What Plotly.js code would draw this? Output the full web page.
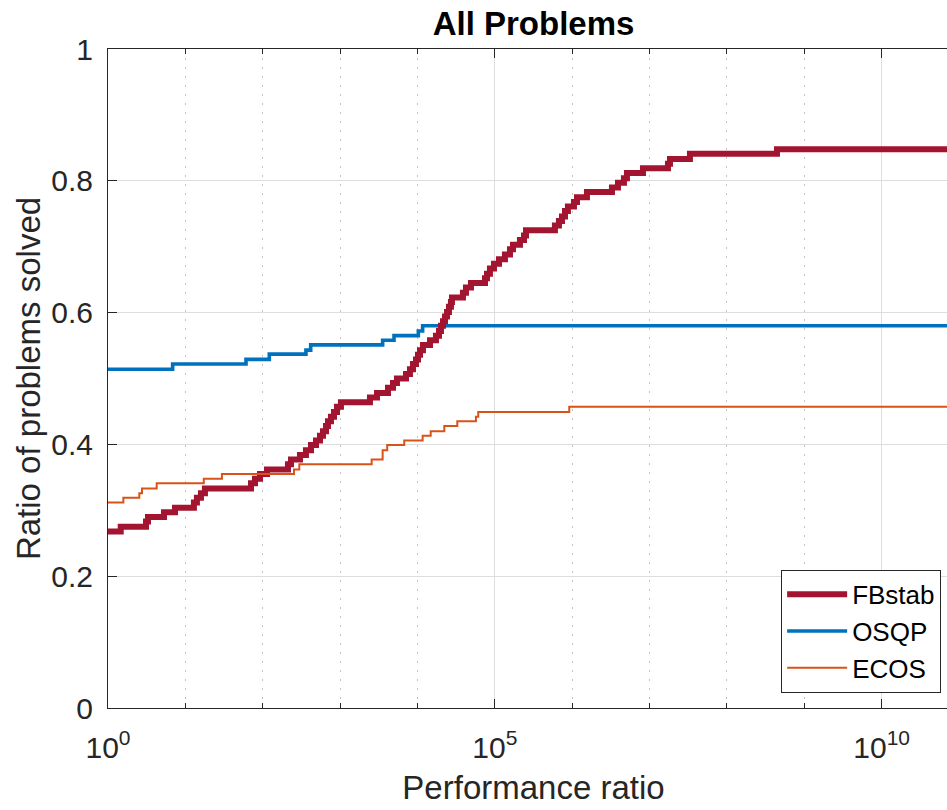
<!DOCTYPE html>
<html>
<head>
<meta charset="utf-8">
<script src="https://cdn.plot.ly/plotly-3.0.1.min.js"></script>
<style>
  html, body { margin: 0; padding: 0; overflow: hidden; background: #fff; }
  #wrap { width: 947px; height: 810px; overflow: hidden; }
</style>
</head>
<body>
<div id="wrap"><div id="chart"></div></div>
<script>
// Performance profiles: fraction of problems solved within a given performance ratio.
const solverNames = ['FBstab', 'OSQP', 'ECOS'];

const fbstabRatio = [1, 1.46, 3.10, 3.29, 5.30, 7.35, 12.9, 14.1, 15.9, 17.9,
  70.5, 79.4, 92.3, 113.5, 212, 232, 303, 362, 421, 488,
  550, 601, 658, 697, 762, 834, 912, 1026, 2432, 3000,
  4159, 4831, 5433, 7112, 7998, 8750, 9572, 1.016e4, 1.079e4, 1.178e4,
  1.452e4, 1.734e4, 1.897e4, 2.014e4, 2.138e4, 2.270e4, 2.410e4, 2.553e4, 2.710e4, 2.793e4,
  3.873e4, 4.236e4, 4.920e4, 7.464e4, 7.925e4, 8.650e4, 9.750e4, 1.132e5, 1.352e5, 1.570e5,
  1.718e5, 2.113e5, 2.382e5, 2.529e5, 5.984e5, 6.745e5, 7.379e5, 8.072e5, 8.810e5, 1.054e6,
  1.153e6, 1.552e6, 3.266e6, 3.908e6, 4.667e6, 5.105e6, 8.222e6, 1.730e7, 1.837e7, 3.327e7,
  4.436e8, 1e11];
const fbstabSolved = [0.268, 0.275, 0.283, 0.290, 0.297, 0.304, 0.312, 0.319, 0.326, 0.333,
  0.341, 0.348, 0.355, 0.362, 0.370, 0.377, 0.384, 0.391, 0.399, 0.406,
  0.413, 0.420, 0.428, 0.435, 0.442, 0.449, 0.457, 0.464, 0.471, 0.478,
  0.486, 0.493, 0.500, 0.507, 0.514, 0.522, 0.529, 0.536, 0.543, 0.551,
  0.558, 0.565, 0.572, 0.580, 0.587, 0.594, 0.601, 0.609, 0.616, 0.623,
  0.630, 0.638, 0.645, 0.652, 0.659, 0.667, 0.674, 0.681, 0.688, 0.696,
  0.703, 0.710, 0.717, 0.725, 0.732, 0.739, 0.746, 0.754, 0.761, 0.768,
  0.775, 0.783, 0.790, 0.797, 0.804, 0.812, 0.819, 0.826, 0.833, 0.841,
  0.848, 0.848];

const osqpRatio = [1, 6.85, 60.8, 121.6, 362, 417, 3548, 4977, 1.026e4, 1.167e4, 1e11];
const osqpSolved = [0.514, 0.522, 0.529, 0.537, 0.543, 0.551, 0.558, 0.565, 0.572, 0.580, 0.580];

const ecosRatio = [1, 1.58, 2.54, 2.75, 4.26, 17.3, 29.7, 253.5, 297.2, 2559,
  3548, 4064, 6745, 1.167e4, 1.483e4, 2.223e4, 3.273e4, 5.702e4, 6.109e4, 9.162e5, 1e11];
const ecosSolved = [0.312, 0.319, 0.326, 0.333, 0.341, 0.348, 0.355, 0.362, 0.370, 0.377,
  0.391, 0.399, 0.406, 0.413, 0.420, 0.428, 0.435, 0.442, 0.449, 0.457, 0.457];

const xTickVals = [1, 1e5, 1e10];
const xTickText = ['10<sup>0</sup>', '10<sup>5</sup>', '10<sup>10</sup>'];
const xMinorVals = [10, 100, 1e3, 1e4, 1e6, 1e7, 1e8, 1e9, 1e11];

const FONT = 'Liberation Sans, Arial, Helvetica, sans-serif';
const AXIS = '#262626';

const traces = [
  { name: solverNames[1], x: osqpRatio, y: osqpSolved, legendrank: 2,
    line: { color: '#0072BD', width: 3.6, shape: 'hv' } },
  { name: solverNames[0], x: fbstabRatio, y: fbstabSolved, legendrank: 1,
    line: { color: '#A2142F', width: 6, shape: 'hv' } },
  { name: solverNames[2], x: ecosRatio, y: ecosSolved, legendrank: 3,
    line: { color: '#D95319', width: 2, shape: 'hv' } }
].map(t => Object.assign({ type: 'scatter', mode: 'lines', hoverinfo: 'skip' }, t));

const layout = {
  width: 960, height: 810,
  margin: { l: 108, r: 1, t: 49, b: 102 },
  paper_bgcolor: '#fff', plot_bgcolor: '#fff',
  font: { family: FONT, color: AXIS, size: 30 },
  title: {
    text: '<b>All Problems</b>',
    font: { family: FONT, size: 33, color: '#000' },
    x: 0.5, xref: 'paper', xanchor: 'center',
    y: 1 - 12 / 810, yref: 'container', yanchor: 'top'
  },
  xaxis: {
    type: 'log', range: [0, 11],
    tickmode: 'array', tickvals: xTickVals, ticktext: xTickText,
    ticks: 'inside', ticklen: 9, tickcolor: AXIS, tickwidth: 1,
    showline: true, linecolor: AXIS, linewidth: 1, mirror: 'allticks',
    showgrid: true, gridcolor: '#dedede', gridwidth: 1,
    zeroline: false,
    tickfont: { family: FONT, size: 30, color: AXIS },
    ticklabelstandoff: 13,
    minor: {
      tickmode: 'array', tickvals: xMinorVals,
      ticks: 'inside', ticklen: 5, tickcolor: AXIS,
      showgrid: true, gridcolor: '#c4c4c4', griddash: '2px,7px', gridwidth: 1
    },
    title: { text: 'Performance ratio', font: { family: FONT, size: 33, color: AXIS }, standoff: 12 }
  },
  yaxis: {
    range: [0, 1], tickmode: 'linear', tick0: 0, dtick: 0.2,
    ticks: 'inside', ticklen: 9, tickcolor: AXIS, tickwidth: 1,
    showline: true, linecolor: AXIS, linewidth: 1, mirror: 'allticks',
    showgrid: true, gridcolor: '#dedede', gridwidth: 1,
    zeroline: false,
    tickfont: { family: FONT, size: 30, color: AXIS },
    ticklabelstandoff: 8,
    title: { text: 'Ratio of problems solved', font: { family: FONT, size: 33, color: AXIS }, standoff: 0 }
  },
  legend: {
    x: 0.979, xanchor: 'right', y: 0.023, yanchor: 'bottom',
    xref: 'paper', yref: 'paper',
    bgcolor: '#fff', bordercolor: AXIS, borderwidth: 1,
    font: { family: FONT, size: 26, color: '#000' },
    itemwidth: 60, tracegroupgap: 0
  },
  showlegend: true
};

Plotly.newPlot('chart', traces, layout, { displayModeBar: false, staticPlot: true });
</script>
</body>
</html>
